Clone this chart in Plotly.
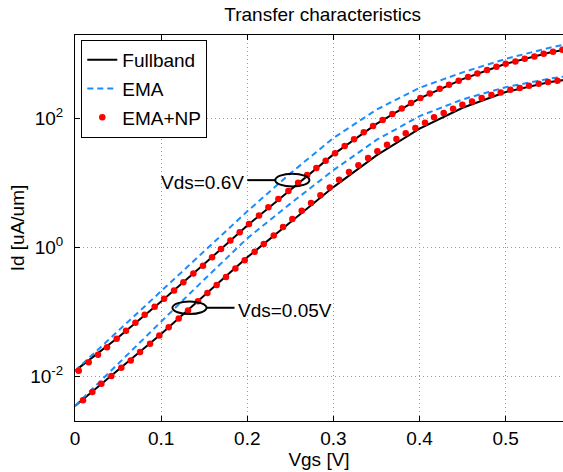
import plotly.graph_objects as go

# ---------------- data ----------------
# Vgs grid of the Fullband / EMA curves [V]
vgs_line = [0.00, 0.05, 0.10, 0.15, 0.20, 0.25, 0.30, 0.35, 0.40, 0.45, 0.50, 0.55, 0.60]

# log10(Id [uA/um])
log10_fullband_vds06 = [-1.920, -1.400, -0.840, -0.260, 0.340, 0.900, 1.445, 1.920, 2.315, 2.615, 2.854, 3.025, 3.150]
log10_fullband_vds005 = [-2.466, -1.906, -1.347, -0.750, -0.155, 0.392, 0.937, 1.430, 1.845, 2.170, 2.415, 2.565, 2.670]
log10_ema_vds06 = [-1.920, -1.300, -0.670, -0.050, 0.560, 1.150, 1.700, 2.140, 2.480, 2.720, 2.930, 3.100, 3.240]
log10_ema_vds005 = [-2.466, -1.810, -1.160, -0.500, 0.140, 0.680, 1.200, 1.670, 2.040, 2.300, 2.490, 2.620, 2.720]

# EMA+NP (dotted) points
vgs_np_vds06 = [0.0043, 0.0159, 0.0267, 0.0372, 0.0484, 0.0592, 0.0701, 0.0809, 0.0925, 0.1034,
                0.1150, 0.1258, 0.1374, 0.1486, 0.1591, 0.1695, 0.1804, 0.1912, 0.2020, 0.2136,
                0.2245, 0.2361, 0.2477, 0.2590, 0.2695, 0.2802, 0.2910, 0.3019, 0.3131, 0.3239,
                0.3352, 0.3460, 0.3572, 0.3684, 0.3793, 0.3901, 0.4009, 0.4118, 0.4234, 0.4342,
                0.4454, 0.4563, 0.4671, 0.4783, 0.4892, 0.5000, 0.5112, 0.5221, 0.5333, 0.5441,
                0.5549, 0.5658]
log10_np_vds06 = [-1.918, -1.784, -1.670, -1.551, -1.421, -1.297, -1.173, -1.049, -0.924, -0.800,
                  -0.671, -0.541, -0.407, -0.285, -0.153, -0.024, 0.106, 0.235, 0.364, 0.494,
                  0.623, 0.753, 0.877, 1.005, 1.125, 1.234, 1.348, 1.462, 1.576, 1.679,
                  1.788, 1.886, 1.979, 2.073, 2.160, 2.243, 2.321, 2.393, 2.466, 2.528,
                  2.590, 2.647, 2.704, 2.756, 2.807, 2.854, 2.890, 2.932, 2.968, 3.009,
                  3.040, 3.071]
vgs_np_vds005 = [0.0093, 0.0202, 0.0306, 0.0422, 0.0538, 0.0647, 0.0755, 0.0871, 0.0979, 0.1088,
                 0.1204, 0.1312, 0.1428, 0.1537, 0.1645, 0.1753, 0.1862, 0.1970, 0.2086, 0.2191,
                 0.2307, 0.2415, 0.2523, 0.2632, 0.2740, 0.2849, 0.2957, 0.3066, 0.3181, 0.3290,
                 0.3402, 0.3510, 0.3622, 0.3731, 0.3839, 0.3951, 0.4063, 0.4168, 0.4280, 0.4389,
                 0.4497, 0.4609, 0.4721, 0.4834, 0.4942, 0.5054, 0.5163, 0.5271, 0.5383, 0.5491,
                 0.5600]
log10_np_vds005 = [-2.375, -2.249, -2.120, -2.001, -1.872, -1.758, -1.628, -1.499, -1.370, -1.240,
                   -1.106, -0.981, -0.836, -0.710, -0.585, -0.460, -0.330, -0.200, -0.070, 0.054,
                   0.183, 0.318, 0.442, 0.570, 0.690, 0.810, 0.930, 1.050, 1.172, 1.275,
                   1.389, 1.493, 1.596, 1.684, 1.772, 1.855, 1.938, 2.021, 2.088, 2.155,
                   2.217, 2.269, 2.321, 2.368, 2.409, 2.450, 2.476, 2.512, 2.543, 2.569,
                   2.590]

x_tick_vals = [0, 0.1, 0.2, 0.3, 0.4, 0.5]
x_tick_text = ["0", "0.1", "0.2", "0.3", "0.4", "0.5"]
y_tick_vals = [1e-2, 1e0, 1e2]
y_tick_text = ["10<sup>-2</sup>", "10<sup>0</sup>", "10<sup>2</sup>"]

# annotation ellipses: (centre Vgs, centre log10 Id, label)
vds06_mark = (0.2523, 1.045, "Vds=0.6V")
vds005_mark = (0.1329, -0.939, "Vds=0.05V")

# ---------------- figure ----------------
FONT = "Liberation Sans, Arial, Helvetica, sans-serif"
BLACK = "#000000"
BLUE = "#1a8cff"
RED = "#ff0000"


def lin(v):
    return [10 ** a for a in v]


fig = go.Figure()
fig.add_trace(go.Scatter(x=vgs_line, y=lin(log10_fullband_vds06), mode="lines",
                         line=dict(color=BLACK, width=2), name="Fullband", legendgroup="fb"))
fig.add_trace(go.Scatter(x=vgs_line, y=lin(log10_fullband_vds005), mode="lines",
                         line=dict(color=BLACK, width=2), name="Fullband", legendgroup="fb",
                         showlegend=False))
fig.add_trace(go.Scatter(x=vgs_line, y=lin(log10_ema_vds06), mode="lines",
                         line=dict(color=BLUE, width=2, dash="6px,4px"), name="EMA", legendgroup="ema"))
fig.add_trace(go.Scatter(x=vgs_line, y=lin(log10_ema_vds005), mode="lines",
                         line=dict(color=BLUE, width=2, dash="6px,4px"), name="EMA", legendgroup="ema",
                         showlegend=False))
fig.add_trace(go.Scatter(x=vgs_np_vds06, y=lin(log10_np_vds06), mode="markers",
                         marker=dict(color=RED, size=6.5), name="EMA+NP", legendgroup="np"))
fig.add_trace(go.Scatter(x=vgs_np_vds005, y=lin(log10_np_vds005), mode="markers",
                         marker=dict(color=RED, size=6.5), name="EMA+NP", legendgroup="np",
                         showlegend=False))

shapes = []
annotations = []
hw, hh = 0.0198, 0.098
# Vds=0.6V: ellipse, leader to the left, label left of the leader
cx, cy, txt = vds06_mark
shapes.append(dict(type="circle", xref="x", yref="y", x0=cx - hw, x1=cx + hw,
                   y0=10 ** (cy - hh), y1=10 ** (cy + hh), line=dict(color=BLACK, width=2)))
shapes.append(dict(type="line", xref="x", yref="y", x0=cx - hw, x1=cx - hw - 0.0325,
                   y0=10 ** cy, y1=10 ** cy, line=dict(color=BLACK, width=2)))
annotations.append(dict(x=cx - hw - 0.0335, y=cy - 0.04, xref="x", yref="y", text=txt,
                        showarrow=False, xanchor="right", yanchor="middle",
                        font=dict(size=19, family=FONT, color=BLACK)))
# Vds=0.05V: ellipse, leader to the right, label right of the leader
cx, cy, txt = vds005_mark
shapes.append(dict(type="circle", xref="x", yref="y", x0=cx - hw, x1=cx + hw,
                   y0=10 ** (cy - hh), y1=10 ** (cy + hh), line=dict(color=BLACK, width=2)))
shapes.append(dict(type="line", xref="x", yref="y", x0=cx + hw, x1=cx + hw + 0.0325,
                   y0=10 ** cy, y1=10 ** cy, line=dict(color=BLACK, width=2)))
annotations.append(dict(x=cx + hw + 0.0345, y=cy - 0.05, xref="x", yref="y", text=txt,
                        showarrow=False, xanchor="left", yanchor="middle",
                        font=dict(size=19, family=FONT, color=BLACK)))

fig.update_layout(
    width=563, height=472,
    margin=dict(l=75, r=0, t=35, b=51),
    paper_bgcolor="white", plot_bgcolor="white",
    font=dict(family=FONT, size=19, color=BLACK),
    title=dict(text="Transfer characteristics", xref="container", x=322.7 / 563, xanchor="center",
               yref="container", y=1 - 14.0 / 472, yanchor="middle",
               font=dict(size=19, family=FONT, color=BLACK)),
    shapes=shapes,
    annotations=annotations,
    legend=dict(x=0.0129, y=0.987, xanchor="left", yanchor="top",
                bgcolor="white", bordercolor=BLACK, borderwidth=1,
                font=dict(size=19, family=FONT, color=BLACK),
                traceorder="grouped", tracegroupgap=1, itemwidth=30),
    showlegend=True,
)

fig.update_xaxes(
    range=[0, 0.5665], tickvals=x_tick_vals, ticktext=x_tick_text,
    ticks="inside", ticklen=5, tickcolor=BLACK, tickwidth=1,
    showline=True, linecolor=BLACK, linewidth=1, mirror="ticks",
    showgrid=True, gridcolor="#9a9a9a", gridwidth=1, griddash="1px,3px",
    zeroline=False, ticklabelstandoff=0,
    title=dict(text="Vgs [V]", standoff=0, font=dict(size=19, family=FONT, color=BLACK)),
)
fig.update_yaxes(
    type="log", range=[-2.699, 3.301], tickvals=y_tick_vals, ticktext=y_tick_text,
    ticks="inside", ticklen=5, tickcolor=BLACK, tickwidth=1,
    showline=True, linecolor=BLACK, linewidth=1, mirror=False,
    showgrid=True, gridcolor="#9a9a9a", gridwidth=1, griddash="1px,3px",
    zeroline=False, ticklabelstandoff=7,
    title=dict(text="Id [uA/um]", standoff=0, font=dict(size=19, family=FONT, color=BLACK)),
)

fig.write_html("out.html")
